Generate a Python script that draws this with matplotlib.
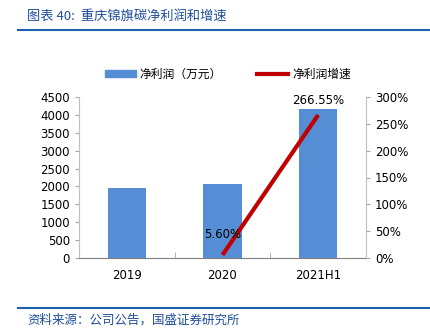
import matplotlib
matplotlib.use("Agg")
import matplotlib.pyplot as plt
from matplotlib.lines import Line2D
from matplotlib.patches import Patch

plt.rcParams['font.family'] = ['DejaVu Sans', 'Noto Sans CJK SC']

categories = ["2019", "2020", "2021H1"]
profit = [1957, 2068, 4164]
growth_cats = ["2020", "2021H1"]
growth = [5.60, 266.55]
growth_labels = ["5.60%", "266.55%"]
left_ticks = [0, 500, 1000, 1500, 2000, 2500, 3000, 3500, 4000, 4500]
right_ticks = [0, 50, 100, 150, 200, 250, 300]

fig = plt.figure(figsize=(4.31, 3.32), dpi=100)
W, H = 431, 332
ax = fig.add_axes([79/W, 1-258/H, (366-79)/W, (258-97)/H])
ax2 = ax.twinx()

x = list(range(len(categories)))
ax.bar(x, profit, width=0.4, color="#558ED5", zorder=2)
ax.set_xlim(-0.5, 2.5)
ax.set_ylim(0, 4500)
ax.set_yticks(left_ticks)
ax.set_xticks(x)
ax.set_xticklabels(categories)
ax.set_xticks([0.5, 1.5], minor=True)
ax.tick_params(axis='x', which='major', length=0, pad=8, labelsize=8.5)
ax.tick_params(axis='x', which='minor', length=4, color="#A6A6A6", direction='in')
ax.tick_params(axis='y', length=3, color="#A6A6A6", labelsize=8.5)

gx = [categories.index(c) for c in growth_cats]
ax2.plot(gx, growth, color="#C00000", lw=3, solid_capstyle='butt', zorder=3)
ax2.set_ylim(0, 300)
ax2.set_yticks(right_ticks)
ax2.set_yticklabels([f"{t}%" for t in right_ticks])
ax2.tick_params(axis='y', length=3, color="#A6A6A6", labelsize=8.5)
ax2.annotate(growth_labels[0], (gx[0], growth[0]), xytext=(0, 10), textcoords='offset points',
             ha='center', va='bottom', fontsize=8.5)
ax2.annotate(growth_labels[1], (gx[1], growth[1]), xytext=(0, 6), textcoords='offset points',
             ha='center', va='bottom', fontsize=8.5)

for a in (ax, ax2):
    a.spines['top'].set_visible(False)
    a.spines['left'].set_color("#BFBFBF")
    a.spines['right'].set_color("#BFBFBF")
    a.spines['bottom'].set_color("#7F7F7F")
ax.spines['right'].set_visible(False)
ax2.spines['left'].set_visible(False)
ax2.spines['bottom'].set_visible(False)

handles = [Patch(color="#558ED5"), Line2D([0], [0], color="#C00000", lw=3)]
fig.legend(handles, ["净利润（万元）", "净利润增速"], loc='center', bbox_to_anchor=(228/W, 1-74/H),
           ncol=2, frameon=False, handlelength=2.6, handletextpad=0.35, columnspacing=3.0,
           handleheight=0.5,
           prop={'family': ['Noto Sans CJK SC', 'DejaVu Sans'], 'size': 8.5})

fig.text(27/W, 1-16/H, "图表 40:  重庆锦旗碳净利润和增速", fontsize=9.5, style='italic',
         color="#1F4E9A", va='center', ha='left', family=['Noto Sans CJK SC', 'DejaVu Sans'])
fig.add_artist(Line2D([18/W, 1], [1-30/H, 1-30/H], color="#1F5FAF", lw=1.5))
fig.add_artist(Line2D([18/W, 1], [1-308/H, 1-308/H], color="#1F5FAF", lw=1.5))
fig.text(27/W, 1-320/H, "资料来源：公司公告，国盛证券研究所", fontsize=9, style='italic',
         color="#1F4E9A", va='center', ha='left', family=['Noto Sans CJK SC', 'DejaVu Sans'])

fig.savefig("out.png", dpi=100)
